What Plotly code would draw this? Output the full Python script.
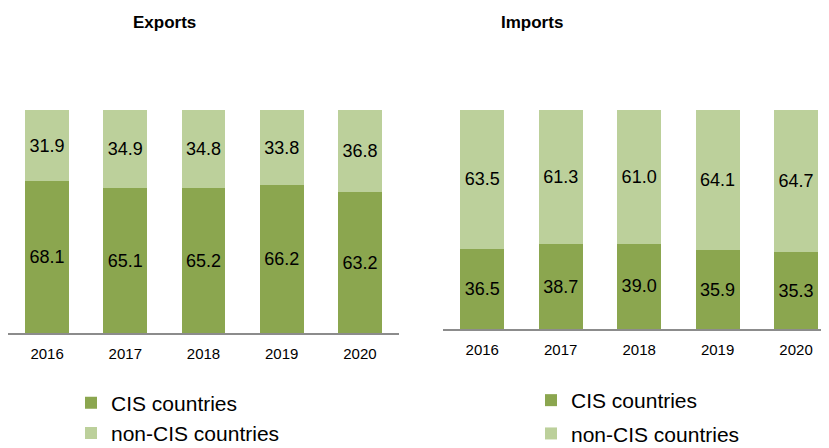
import plotly.graph_objects as go

years = ["2016", "2017", "2018", "2019", "2020"]
exports_cis = [68.1, 65.1, 65.2, 66.2, 63.2]
exports_non_cis = [31.9, 34.9, 34.8, 33.8, 36.8]
imports_cis = [36.5, 38.7, 39.0, 35.9, 35.3]
imports_non_cis = [63.5, 61.3, 61.0, 64.1, 64.7]

DARK = "#8BA64F"
LIGHT = "#BCD09B"
FONT = "Liberation Sans, Arial, sans-serif"
W, H = 829, 448
OFF = 8  # default body margin of the html page

def fmt(v):
    return [f"{x:.1f}" for x in v]

fig = go.Figure()
common = dict(textposition="inside", insidetextanchor="middle", textangle=0,
              textfont=dict(size=18, color="#000000", family=FONT),
              hoverinfo="skip", marker_line_width=0)
fig.add_trace(go.Bar(x=years, y=exports_cis, text=fmt(exports_cis), name="CIS countries",
                     marker_color=DARK, xaxis="x", yaxis="y", legend="legend",
                     legendgroup="e1", **common))
fig.add_trace(go.Bar(x=years, y=exports_non_cis, text=fmt(exports_non_cis), name="non-CIS countries",
                     marker_color=LIGHT, xaxis="x", yaxis="y", legend="legend",
                     legendgroup="e2", **common))
fig.add_trace(go.Bar(x=years, y=imports_cis, text=fmt(imports_cis), name="CIS countries",
                     marker_color=DARK, xaxis="x2", yaxis="y2", legend="legend2",
                     legendgroup="i1", **common))
fig.add_trace(go.Bar(x=years, y=imports_non_cis, text=fmt(imports_non_cis), name="non-CIS countries",
                     marker_color=LIGHT, xaxis="x2", yaxis="y2", legend="legend2",
                     legendgroup="i2", **common))

def px_x(p):
    return (p - OFF) / W

def px_y(p):
    return (H - (p - OFF)) / H

xcommon = dict(type="category", showgrid=False, zeroline=False, showline=True,
               linecolor="#8C8C8C", linewidth=1.5, ticks="", fixedrange=True,
               ticklabelstandoff=6,
               tickfont=dict(size=15, color="#000000", family=FONT))
ycommon = dict(range=[0, 100], showgrid=False, zeroline=False, showline=False,
               showticklabels=False, ticks="", fixedrange=True)

legfont = dict(size=21, color="#000000", family=FONT)

fig.update_layout(
    width=W, height=H,
    margin=dict(l=0, r=0, t=0, b=0, autoexpand=False),
    paper_bgcolor="white", plot_bgcolor="white",
    barmode="stack", bargap=0.44,
    font=dict(family=FONT, color="#000000"),
    xaxis=dict(domain=[px_x(8), px_x(399)], range=[-0.5, 4.5], anchor="y", **xcommon),
    yaxis=dict(domain=[px_y(333.3), px_y(110)], anchor="x", **ycommon),
    xaxis2=dict(domain=[px_x(443), px_x(829)], range=[-0.5, 4.42], anchor="y2", **xcommon),
    yaxis2=dict(domain=[px_y(329.3), px_y(109.5)], anchor="x2", **ycommon),
    legend=dict(x=px_x(71), y=px_y(382.5), xanchor="left", yanchor="top",
                font=legfont, bgcolor="rgba(0,0,0,0)", traceorder="grouped",
                tracegroupgap=0),
    legend2=dict(x=px_x(531), y=px_y(380), xanchor="left", yanchor="top",
                 font=legfont, bgcolor="rgba(0,0,0,0)", traceorder="grouped",
                 tracegroupgap=3),
    annotations=[
        dict(text="<b>Exports</b>", x=px_x(164.5), y=px_y(22), xref="paper", yref="paper",
             showarrow=False, xanchor="center", yanchor="middle",
             font=dict(size=17, color="#000000", family=FONT)),
        dict(text="<b>Imports</b>", x=px_x(532), y=px_y(22), xref="paper", yref="paper",
             showarrow=False, xanchor="center", yanchor="middle",
             font=dict(size=17, color="#000000", family=FONT)),
    ],
)

fig.write_html("out.html")
